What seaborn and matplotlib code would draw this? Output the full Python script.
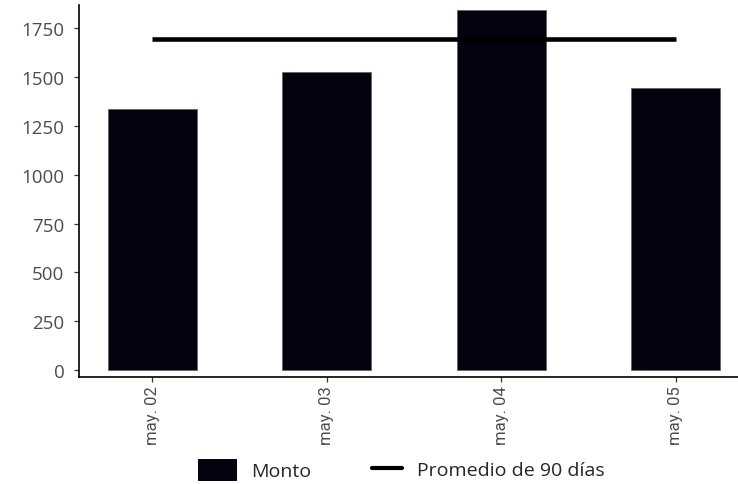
import matplotlib
matplotlib.use("Agg")
import matplotlib.pyplot as plt
import seaborn as sns
import pandas as pd
from matplotlib.patches import Patch
from matplotlib.lines import Line2D

fechas = ["may. 02", "may. 03", "may. 04", "may. 05"]
monto = [1337, 1526, 1844, 1444]
promedio_90 = 1695
y_ticks = [0, 250, 500, 750, 1000, 1250, 1500, 1750]
legend_labels = ["Monto", "Promedio de 90 días"]

sns.set_theme(style="white")
plt.rcParams["font.family"] = ["Open Sans", "DejaVu Sans"]

W, H = 738, 485
fig = plt.figure(figsize=(W / 100, H / 100), dpi=100)
left_px, right_px, top_px, bottom_px = 79, 749, 6, 377.7
ax = fig.add_axes([left_px / W, 1 - bottom_px / H, (right_px - left_px) / W, (bottom_px - top_px) / H])

df = pd.DataFrame({"fecha": fechas, "monto": monto})
bar_color = "#03030f"
sns.barplot(data=df, x="fecha", y="monto", color=bar_color, width=0.51,
            saturation=1, edgecolor="#555555", linewidth=0.4, ax=ax)
ax.hlines(promedio_90, 0, len(fechas) - 1, color="black", linewidth=3.3, zorder=5)

ax.set_xlim(-0.421, 3.421)
ax.set_ylim(-34, 1869)
ax.set_yticks(y_ticks)
ax.set_xlabel("")
ax.set_ylabel("")
for s in ["top", "right"]:
    ax.spines[s].set_visible(False)
for s in ["left", "bottom"]:
    ax.spines[s].set_color("black")
    ax.spines[s].set_linewidth(1.2)

ax.tick_params(axis="both", which="both", bottom=True, left=True, length=3.5, width=0.9,
               color="#333333", labelcolor="#4d4d4d", direction="out")
ax.tick_params(axis="y", pad=7, labelsize=13.5)
ax.tick_params(axis="x", pad=2.5, labelsize=12)
ax.set_xticks(range(len(fechas)))
ax.set_xticklabels(fechas, rotation=90, family=["Liberation Sans Narrow", "Roboto", "DejaVu Sans"])
for lab in ax.get_yticklabels():
    lab.set_family(["Open Sans", "DejaVu Sans"])

fs = 14
em = fs * 100 / 72
cy = 1 - 471 / H
leg1 = fig.legend([Patch(facecolor=bar_color, edgecolor="none")], [legend_labels[0]],
                  loc="center left", bbox_to_anchor=(198 / W, cy),
                  frameon=False, fontsize=fs, borderpad=0, borderaxespad=0,
                  handlelength=39 / em, handleheight=26 / em, handletextpad=14 / em)
leg2 = fig.legend([Line2D([0], [0], color="black", linewidth=3.0)], [legend_labels[1]],
                  loc="center left", bbox_to_anchor=(372 / W, cy),
                  frameon=False, fontsize=fs, borderpad=0, borderaxespad=0,
                  handlelength=30 / em, handletextpad=15 / em)

fig.savefig("out.png", dpi=100)
